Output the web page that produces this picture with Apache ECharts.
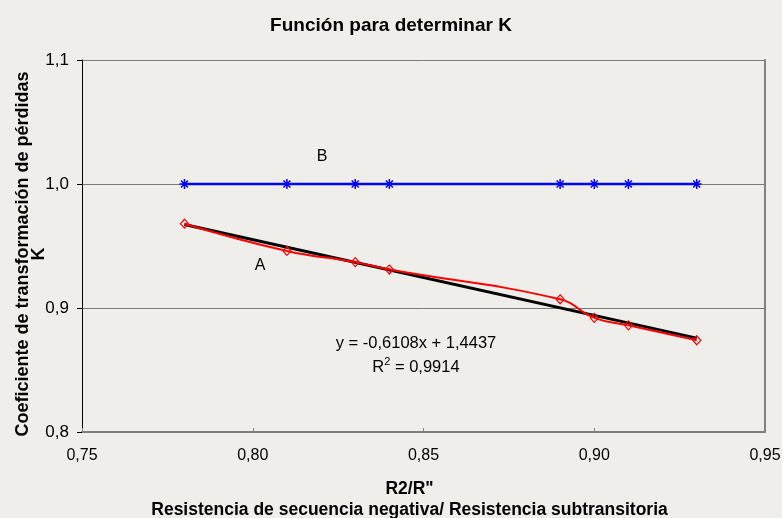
<!DOCTYPE html>
<html>
<head>
<meta charset="utf-8">
<script src="https://cdn.jsdelivr.net/npm/echarts@6/dist/echarts.min.js"></script>
<style>
html,body{margin:0;padding:0;background:#efeeea;}
#c{width:782px;height:518px;}
</style>
</head>
<body>
<div id="c"></div>
<script>
var xValues = [0.78, 0.81, 0.83, 0.84, 0.89, 0.90, 0.91, 0.93];
var seriesA = [0.968, 0.946, 0.937, 0.931, 0.907, 0.892, 0.886, 0.874];
var seriesB = [1.0, 1.0, 1.0, 1.0, 1.0, 1.0, 1.0, 1.0];
var trendX = [0.78, 0.93];
var trendY = [0.9673, 0.8757];
var yTicks = [0.8, 0.9, 1.0, 1.1];
var xTicks = [0.75, 0.80, 0.85, 0.90, 0.95];

function pairs(xs, ys){ return xs.map(function(x,i){ return [x, ys[i]]; }); }

var font = 'Arial, "Liberation Sans", sans-serif';
var chart = echarts.init(document.getElementById('c'), null, {renderer:'canvas'});
var asterisk = 'path://M0,5 L10,5 M5,0 L5,10 M1.5,1.5 L8.5,8.5 M8.5,1.5 L1.5,8.5';

chart.setOption({
  backgroundColor: '#efeeea',
  animation: false,
  title: {
    text: 'Función para determinar K',
    left: 'center', top: 11,
    textStyle: {fontFamily: font, fontSize: 19, fontWeight: 'bold', color: '#000'}
  },
  grid: {left: 82, right: 17, top: 60, bottom: 86, containLabel: false, outerBoundsMode: 'none'},
  xAxis: {
    type: 'value', min: 0.75, max: 0.95, interval: 0.05,
    name: 'R2/R"\nResistencia de secuencia negativa/ Resistencia subtransitoria',
    nameLocation: 'middle', nameGap: 47, nameMoveOverlap: false,
    nameTextStyle: {fontFamily: font, fontSize: 17.5, fontWeight: 'bold', color: '#000', lineHeight: 21, padding: [0, 28, 0, 0]},
    axisLine: {show: true, lineStyle: {color: '#808080', width: 2}},
    axisTick: {show: true, length: 4, inside: true, lineStyle: {color: '#808080'}},
    axisLabel: {fontFamily: font, fontSize: 16, color: '#000', margin: 16,
      formatter: function(v){ return v.toFixed(2).replace('.', ','); }},
    splitLine: {show: false}
  },
  yAxis: [{
    type: 'value', min: 0.8, max: 1.1, interval: 0.1,
    name: 'Coeficiente de transformación de pérdidas\nK',
    nameLocation: 'middle', nameGap: 35, nameMoveOverlap: false,
    nameTextStyle: {fontFamily: font, fontSize: 18, fontWeight: 'bold', color: '#000', lineHeight: 16, padding: [0, 16, 0, 0]},
    axisLine: {show: true, lineStyle: {color: '#000', width: 1}},
    axisTick: {show: true, length: 5, lineStyle: {color: '#000'}},
    axisLabel: {fontFamily: font, fontSize: 17, color: '#000', margin: 13,
      formatter: function(v){ return v.toFixed(1).replace('.', ','); }},
    splitLine: {show: true, lineStyle: {color: '#7a7a7a', width: 1}}
  }, {
    type: 'value', min: 0.8, max: 1.1, interval: 0.1, position: 'right',
    axisLine: {show: true, lineStyle: {color: '#808080', width: 2}},
    axisTick: {show: false}, axisLabel: {show: false}, splitLine: {show: false}
  }],
  series: [
    {
      name: 'B', type: 'line', data: pairs(xValues, seriesB),
      symbol: asterisk, symbolSize: 10,
      lineStyle: {color: '#0000ff', width: 2.5},
      itemStyle: {color: '#0000ff', borderColor: '#0000ff', borderWidth: 1.5},
      z: 3
    },
    {
      name: 'A', type: 'line', data: pairs(xValues, seriesA),
      smooth: 0.45, symbol: 'diamond', symbolSize: [8, 9], showAllSymbol: true,
      lineStyle: {color: '#ff0000', width: 2},
      itemStyle: {color: 'rgba(0,0,0,0)', borderColor: '#ff0000', borderWidth: 1.2},
      z: 4
    },
    {
      name: 'Tendencia', type: 'line', data: pairs(trendX, trendY),
      symbol: 'none', lineStyle: {color: '#000', width: 3}, z: 3
    }
  ],
  graphic: [
    {type: 'text', x: 322, y: 157, style: {text: 'B', font: '16px Arial, "Liberation Sans", sans-serif', fill: '#000', align: 'center', verticalAlign: 'middle'}},
    {type: 'text', x: 260, y: 266, style: {text: 'A', font: '16px Arial, "Liberation Sans", sans-serif', fill: '#000', align: 'center', verticalAlign: 'middle'}},
    {type: 'text', x: 416, y: 343, style: {text: 'y = -0,6108x + 1,4437', font: '16.5px Arial, "Liberation Sans", sans-serif', fill: '#000', align: 'center', verticalAlign: 'middle'}},
    {type: 'text', x: 416, y: 366, style: {
      text: '{a|R}{s|2}{a| = 0,9914}', align: 'center', verticalAlign: 'middle',
      rich: {
        a: {fontFamily: font, fontSize: 16.5, fill: '#000', color: '#000', verticalAlign: 'bottom', lineHeight: 20},
        s: {fontFamily: font, fontSize: 11, fill: '#000', color: '#000', verticalAlign: 'top', lineHeight: 20, padding: [0, 0, 9, 0]}
      }
    }}
  ]
});
</script>
</body>
</html>
